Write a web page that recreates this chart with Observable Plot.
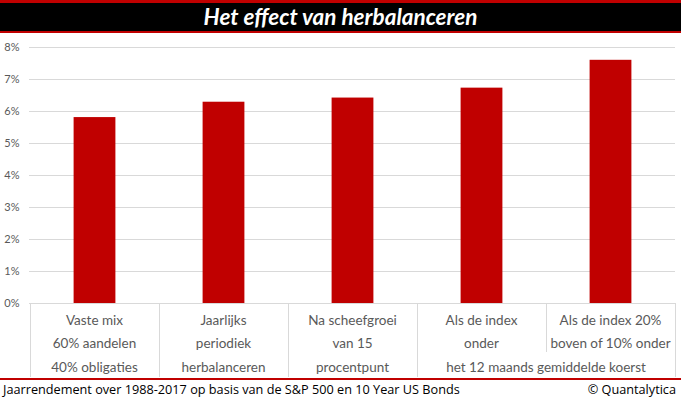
<!DOCTYPE html>
<html><head><meta charset="utf-8">
<script src="https://cdn.jsdelivr.net/npm/d3@7"></script>
<script src="https://cdn.jsdelivr.net/npm/@observablehq/plot@0.6"></script>
<style>
body{margin:0;background:#fff;width:681px;height:399px;overflow:hidden}
#title{box-sizing:border-box;height:33px;background:#000;border-top:3px solid #c00000;border-bottom:2px solid #c00000;color:#fff;font:italic bold 22.5px Lato, sans-serif;text-align:center;line-height:27px}
#chart svg{display:block}
#footer{box-sizing:border-box;height:21px;border-top:2px solid #c00000;display:flex;justify-content:space-between;font:12.7px "Open Sans", sans-serif;padding:0 5px 0 3px;line-height:18px;color:#000}
</style></head><body>
<div id="title">Het effect van herbalanceren</div>
<div id="chart"></div>
<div id="footer"><span id="note"></span><span id="credit"></span></div>
<script>
const categories = ["Vaste mix", "Jaarlijks", "Na scheefgroei", "Als de index onder", "Als de index 20%"];
const values = [5.81, 6.29, 6.42, 6.73, 7.60];
const yTicks = [0, 1, 2, 3, 4, 5, 6, 7, 8];
const labelLines = [
  ["Vaste mix", "60% aandelen", "40% obligaties"],
  ["Jaarlijks", "periodiek", "herbalanceren"],
  ["Na scheefgroei", "van 15", "procentpunt"],
  ["Als de index", "onder"],
  ["Als de index 20%", "boven of 10% onder"]
];
const sharedLine = "het 12 maands gemiddelde koerst";
const sharedCategories = [3, 4];
const noteText = "Jaarrendement over 1988-2017 op basis van de S&P 500 en 10 Year US Bonds";
const creditText = "© Quantalytica";

document.getElementById("note").textContent = noteText;
document.getElementById("credit").textContent = creditText;

const data = categories.map((c, i) => ({category: c, value: values[i]}));
const gray = "#d9d9d9";
const textGray = "#595959";

const chart = Plot.plot({
  width: 681, height: 345,
  marginTop: 14, marginBottom: 75, marginLeft: 29, marginRight: 6,
  style: {fontFamily: "Lato, sans-serif", fontSize: "11px", color: textGray, background: "white"},
  x: {domain: categories, padding: 0, axis: null},
  y: {domain: [0, 8], ticks: yTicks, tickFormat: d => d + "%", tickSize: 0, tickPadding: 10, label: null},
  marks: [
    Plot.ruleY(yTicks, {stroke: gray, strokeWidth: 1}),
    Plot.barY(data, {x: "category", y: "value", fill: "#c00000", insetLeft: 43.6, insetRight: 43.6})
  ]
});
document.getElementById("chart").appendChild(chart);

// category table below the axis, positioned through Plot's scales
const xs = chart.scale("x");
const ys = chart.scale("y");
const bw = xs.bandwidth;
const y0 = ys.apply(0);
const svg = d3.select(chart);
const g = svg.append("g");
const rowDy = [17, 40, 64];
const tableBottom = y0 + 74;
const boundaries = categories.map(c => xs.apply(c)).concat([xs.apply(categories[categories.length - 1]) + bw]);
boundaries.forEach((bx, i) => {
  const sharedBoundary = i === sharedCategories[1];
  g.append("line")
    .attr("x1", bx).attr("x2", bx)
    .attr("y1", y0).attr("y2", sharedBoundary ? y0 + 49 : tableBottom)
    .attr("stroke", gray).attr("stroke-width", 1)
    .attr("shape-rendering", "crispEdges");
});
const labelFont = "13.5px Lato, sans-serif";
labelLines.forEach((lines, i) => {
  const cx = xs.apply(categories[i]) + bw / 2;
  lines.forEach((t, j) => {
    g.append("text").attr("x", cx).attr("y", y0 + rowDy[j])
      .attr("text-anchor", "middle").attr("dominant-baseline", "central")
      .attr("fill", textGray).style("font", labelFont).text(t);
  });
});
const sx = (xs.apply(categories[sharedCategories[0]]) + xs.apply(categories[sharedCategories[1]]) + bw) / 2;
g.append("text").attr("x", sx).attr("y", y0 + rowDy[2])
  .attr("text-anchor", "middle").attr("dominant-baseline", "central")
  .attr("fill", textGray).style("font", labelFont).text(sharedLine);
</script>
</body></html>
